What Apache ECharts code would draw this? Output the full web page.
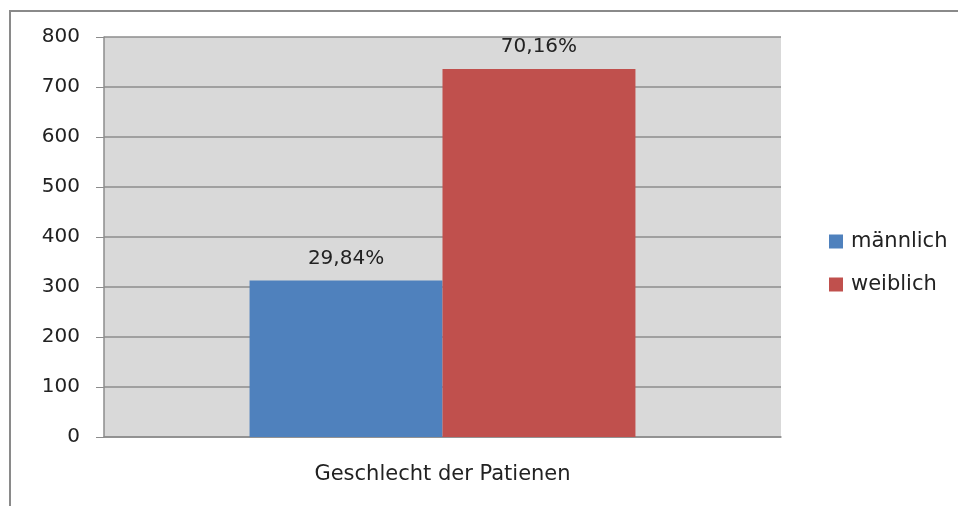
<!DOCTYPE html>
<html>
<head>
<meta charset="utf-8">
<script src="https://cdn.jsdelivr.net/npm/echarts@6/dist/echarts.min.js"></script>
<style>
  html, body { margin: 0; padding: 0; background: #fff; }
  #chart { width: 958px; height: 506px; }
</style>
</head>
<body>
<div id="chart"></div>
<script>
// Daten
var categories = ["Geschlecht der Patienen"];
var seriesNames = ["männlich", "weiblich"];
var maennlich = [313];
var weiblich = [736];
var yTicks = [0, 100, 200, 300, 400, 500, 600, 700, 800];

var total = maennlich[0] + weiblich[0];
function pct(v) {
  return (v / total * 100).toFixed(2).replace(".", ",") + "%";
}

var chart = echarts.init(document.getElementById("chart"));
var font = "'DejaVu Sans', sans-serif";

chart.setOption({
  animation: false,
  textStyle: { fontFamily: font },
  graphic: [{
    type: "rect",
    shape: { x: 10, y: 11, width: 1200, height: 800 },
    style: { fill: null, stroke: "#8a8a8a", lineWidth: 2 },
    z: -10
  }],
  grid: {
    left: 104, top: 37, right: 177, bottom: 69,
    show: true, backgroundColor: "#d9d9d9", borderWidth: 0
  },
  legend: {
    orient: "vertical",
    left: 824, top: 226,
    itemWidth: 14, itemHeight: 14, itemGap: 22,
    icon: "rect",
    textStyle: { fontSize: 21, color: "#222", fontFamily: font, padding: [0, 0, 0, 3] },
    data: seriesNames
  },
  xAxis: {
    type: "category",
    data: categories,
    axisLine: { lineStyle: { color: "#8c8c8c", width: 1.5 } },
    axisTick: { length: 7, lineStyle: { color: "#8c8c8c" } },
    axisLabel: { fontSize: 21, color: "#222", margin: 27 }
  },
  yAxis: {
    type: "value",
    min: yTicks[0], max: yTicks[yTicks.length - 1], interval: 100,
    axisLine: { show: true, lineStyle: { color: "#8c8c8c", width: 1.5 } },
    axisTick: { show: true, length: 8, lineStyle: { color: "#8c8c8c" } },
    axisLabel: { fontSize: 20, color: "#222", margin: 24 },
    splitLine: { lineStyle: { color: "#8c8c8c", width: 1.5 } }
  },
  series: [
    {
      name: seriesNames[0], type: "bar", data: maennlich,
      barGap: "0%", barCategoryGap: "43%",
      itemStyle: { color: "#4f81bd" },
      label: {
        show: true, position: "top", distance: 12,
        fontSize: 20, color: "#222", fontFamily: font,
        formatter: function (p) { return pct(p.value); }
      }
    },
    {
      name: seriesNames[1], type: "bar", data: weiblich,
      barGap: "0%", barCategoryGap: "43%",
      itemStyle: { color: "#c0504d" },
      label: {
        show: true, position: "top", distance: 12,
        fontSize: 20, color: "#222", fontFamily: font,
        formatter: function (p) { return pct(p.value); }
      }
    }
  ]
});
</script>
</body>
</html>
